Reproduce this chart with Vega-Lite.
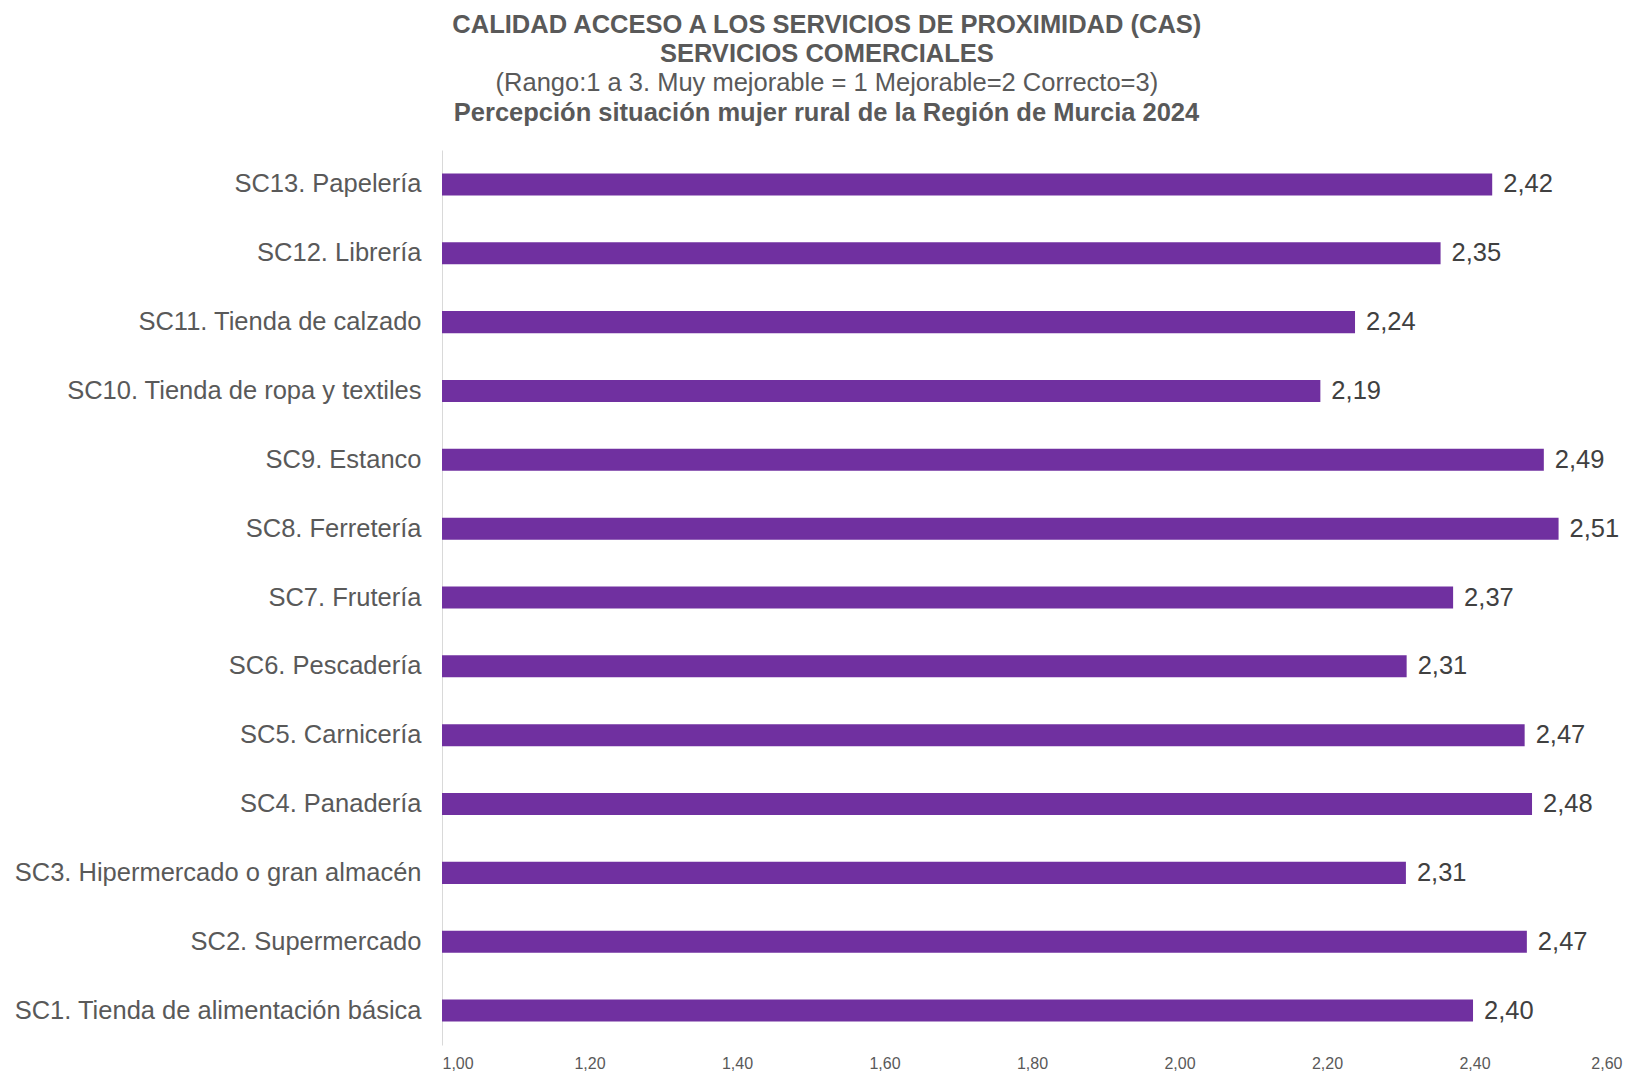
{
  "$schema": "https://vega.github.io/schema/vega-lite/v6.json",
  "width": 1180,
  "height": 895,
  "autosize": {"type": "none"},
  "padding": {"left": 442, "top": 150, "right": 20, "bottom": 27},
  "background": "white",
  "config": {
    "font": "Liberation Sans",
    "view": {"stroke": null},
    "locale": {"number": {"decimal": ",", "thousands": ".", "grouping": [3], "currency": ["", " €"]}}
  },
  "title": {
    "text": ["CALIDAD ACCESO A LOS SERVICIOS DE PROXIMIDAD (CAS)", "SERVICIOS COMERCIALES"],
    "subtitle": "(Rango:1 a 3. Muy mejorable = 1 Mejorable=2 Correcto=3)",
    "anchor": "middle",
    "frame": "bounds",
    "dx": 9,
    "fontSize": 25.5,
    "fontWeight": "bold",
    "color": "#595959",
    "lineHeight": 29,
    "subtitleFontSize": 25.5,
    "subtitleColor": "#595959",
    "subtitleFontWeight": "normal",
    "subtitleLineHeight": 30,
    "subtitlePadding": 3,
    "offset": 4
  },
  "data": {
    "values": [
      {"servicio": "SC13. Papelería", "valor": 2.424},
      {"servicio": "SC12. Librería", "valor": 2.354},
      {"servicio": "SC11. Tienda de calzado", "valor": 2.238},
      {"servicio": "SC10. Tienda de ropa y textiles", "valor": 2.191},
      {"servicio": "SC9. Estanco", "valor": 2.494},
      {"servicio": "SC8. Ferretería", "valor": 2.514},
      {"servicio": "SC7. Frutería", "valor": 2.371},
      {"servicio": "SC6. Pescadería", "valor": 2.308},
      {"servicio": "SC5. Carnicería", "valor": 2.468},
      {"servicio": "SC4. Panadería", "valor": 2.478},
      {"servicio": "SC3. Hipermercado o gran almacén", "valor": 2.307},
      {"servicio": "SC2. Supermercado", "valor": 2.471},
      {"servicio": "SC1. Tienda de alimentación básica", "valor": 2.398}
    ]
  },
  "encoding": {
    "y": {
      "field": "servicio",
      "type": "nominal",
      "sort": null,
      "scale": {"paddingInner": 0.68, "paddingOuter": 0.34},
      "axis": {
        "title": null,
        "ticks": false,
        "grid": false,
        "domain": true,
        "domainColor": "#d9d9d9",
        "domainWidth": 1,
        "labelFontSize": 25.5,
        "labelColor": "#595959",
        "labelPadding": 21,
        "labelLimit": 600
      }
    }
  },
  "layer": [
    {
      "mark": {"type": "bar", "color": "#7030A0"},
      "encoding": {
        "x": {
          "field": "valor",
          "type": "quantitative",
          "scale": {"domain": [1, 2.6], "zero": false, "nice": false},
          "axis": {
            "orient": "bottom",
            "title": null,
            "values": [1, 1.2, 1.4, 1.6, 1.8, 2, 2.2, 2.4, 2.6],
            "format": ".2f",
            "grid": false,
            "ticks": false,
            "domain": false,
            "labelFontSize": 16,
            "labelColor": "#595959",
            "labelPadding": 10
          }
        },
        "x2": {"datum": 1}
      }
    },
    {
      "mark": {"type": "text", "align": "left", "baseline": "middle", "dx": 11, "fontSize": 25.5, "color": "#404040"},
      "encoding": {
        "x": {
          "field": "valor",
          "type": "quantitative",
          "axis": {
            "orient": "top",
            "labels": false,
            "ticks": false,
            "domain": false,
            "grid": false,
            "title": "Percepción situación mujer rural de la Región de Murcia 2024",
            "titleFontSize": 25.5,
            "titleFontWeight": "bold",
            "titleColor": "#595959",
            "titlePadding": 25,
            "titleX": 384
          }
        },
        "text": {"field": "valor", "type": "quantitative", "format": ".2f"}
      }
    }
  ],
  "resolve": {"axis": {"x": "independent"}}
}
